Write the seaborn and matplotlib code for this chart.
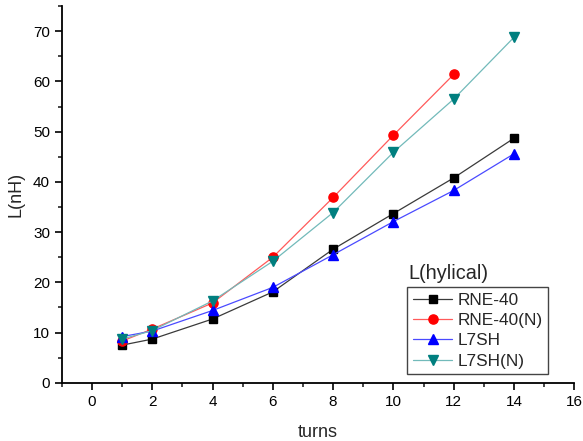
import matplotlib
matplotlib.use("Agg")
import matplotlib.pyplot as plt
import seaborn as sns
import pandas as pd
from matplotlib.ticker import MultipleLocator

turns_a = [1, 2, 4, 6, 8, 10, 12, 14]
turns_b = [1, 2, 4, 6, 8, 10, 12]
rne40 = [7.5, 8.7, 12.7, 18.1, 26.6, 33.7, 40.8, 48.7]
rne40_n = [8.3, 10.7, 15.9, 25.0, 36.9, 49.3, 61.4]
l7sh = [9.2, 10.3, 14.4, 19.0, 25.5, 32.1, 38.3, 45.6]
l7sh_n = [8.7, 10.4, 16.3, 24.2, 33.9, 45.9, 56.5, 68.8]

series = [
    ("RNE-40", turns_a, rne40, "s", "black", "#3a3a3a", 5.6),
    ("RNE-40(N)", turns_b, rne40_n, "o", "#ff0000", "#ff5a5a", 6.6),
    ("L7SH", turns_a, l7sh, "^", "#0000ff", "#4a4aff", 7.2),
    ("L7SH(N)", turns_a, l7sh_n, "v", "#007f7f", "#72baba", 7.2),
]

sns.set_style("ticks")
plt.rcParams["font.family"] = ["Liberation Sans", "DejaVu Sans"]

fig = plt.figure(figsize=(5.83, 4.41), dpi=100)
ax = fig.add_axes([0.106, 0.132, 0.879, 0.854])

for name, xs, ys, mk, mc, lc, ms in series:
    df = pd.DataFrame({"turns": xs, "L": ys})
    sns.lineplot(data=df, x="turns", y="L", ax=ax, color=lc, linewidth=0.9,
                 marker=mk, markersize=ms, markerfacecolor=mc, markeredgecolor=mc,
                 markeredgewidth=1.0, label=name)

ax.set_xlim(-1, 16)
ax.set_ylim(0, 75)
ax.xaxis.set_major_locator(MultipleLocator(2))
ax.xaxis.set_minor_locator(MultipleLocator(1))
ax.yaxis.set_major_locator(MultipleLocator(10))
ax.yaxis.set_minor_locator(MultipleLocator(5))
ax.tick_params(which="major", length=5, width=1.2, labelsize=11, colors="black")
ax.tick_params(which="minor", length=3, width=1.2)
for s in ["top", "right"]:
    ax.spines[s].set_visible(False)
for s in ["left", "bottom"]:
    ax.spines[s].set_linewidth(1.3)
    ax.spines[s].set_color("black")

ax.set_xlabel("turns", fontsize=13, labelpad=11)
ax.set_ylabel("L(nH)", fontsize=13, labelpad=6)

leg = ax.legend(loc="lower left", bbox_to_anchor=(0.674, 0.023), fontsize=12.4,
                frameon=True, fancybox=False, edgecolor="#444444",
                handlelength=2.3, handletextpad=0.3, borderpad=0.32,
                labelspacing=0.3, borderaxespad=0, framealpha=1)
leg.get_frame().set_linewidth(1.0)
ax.text(0.676, 0.275, "L(hylical)", transform=ax.transAxes, fontsize=14.3,
        ha="left", va="baseline")

fig.savefig("out.png", dpi=100)
